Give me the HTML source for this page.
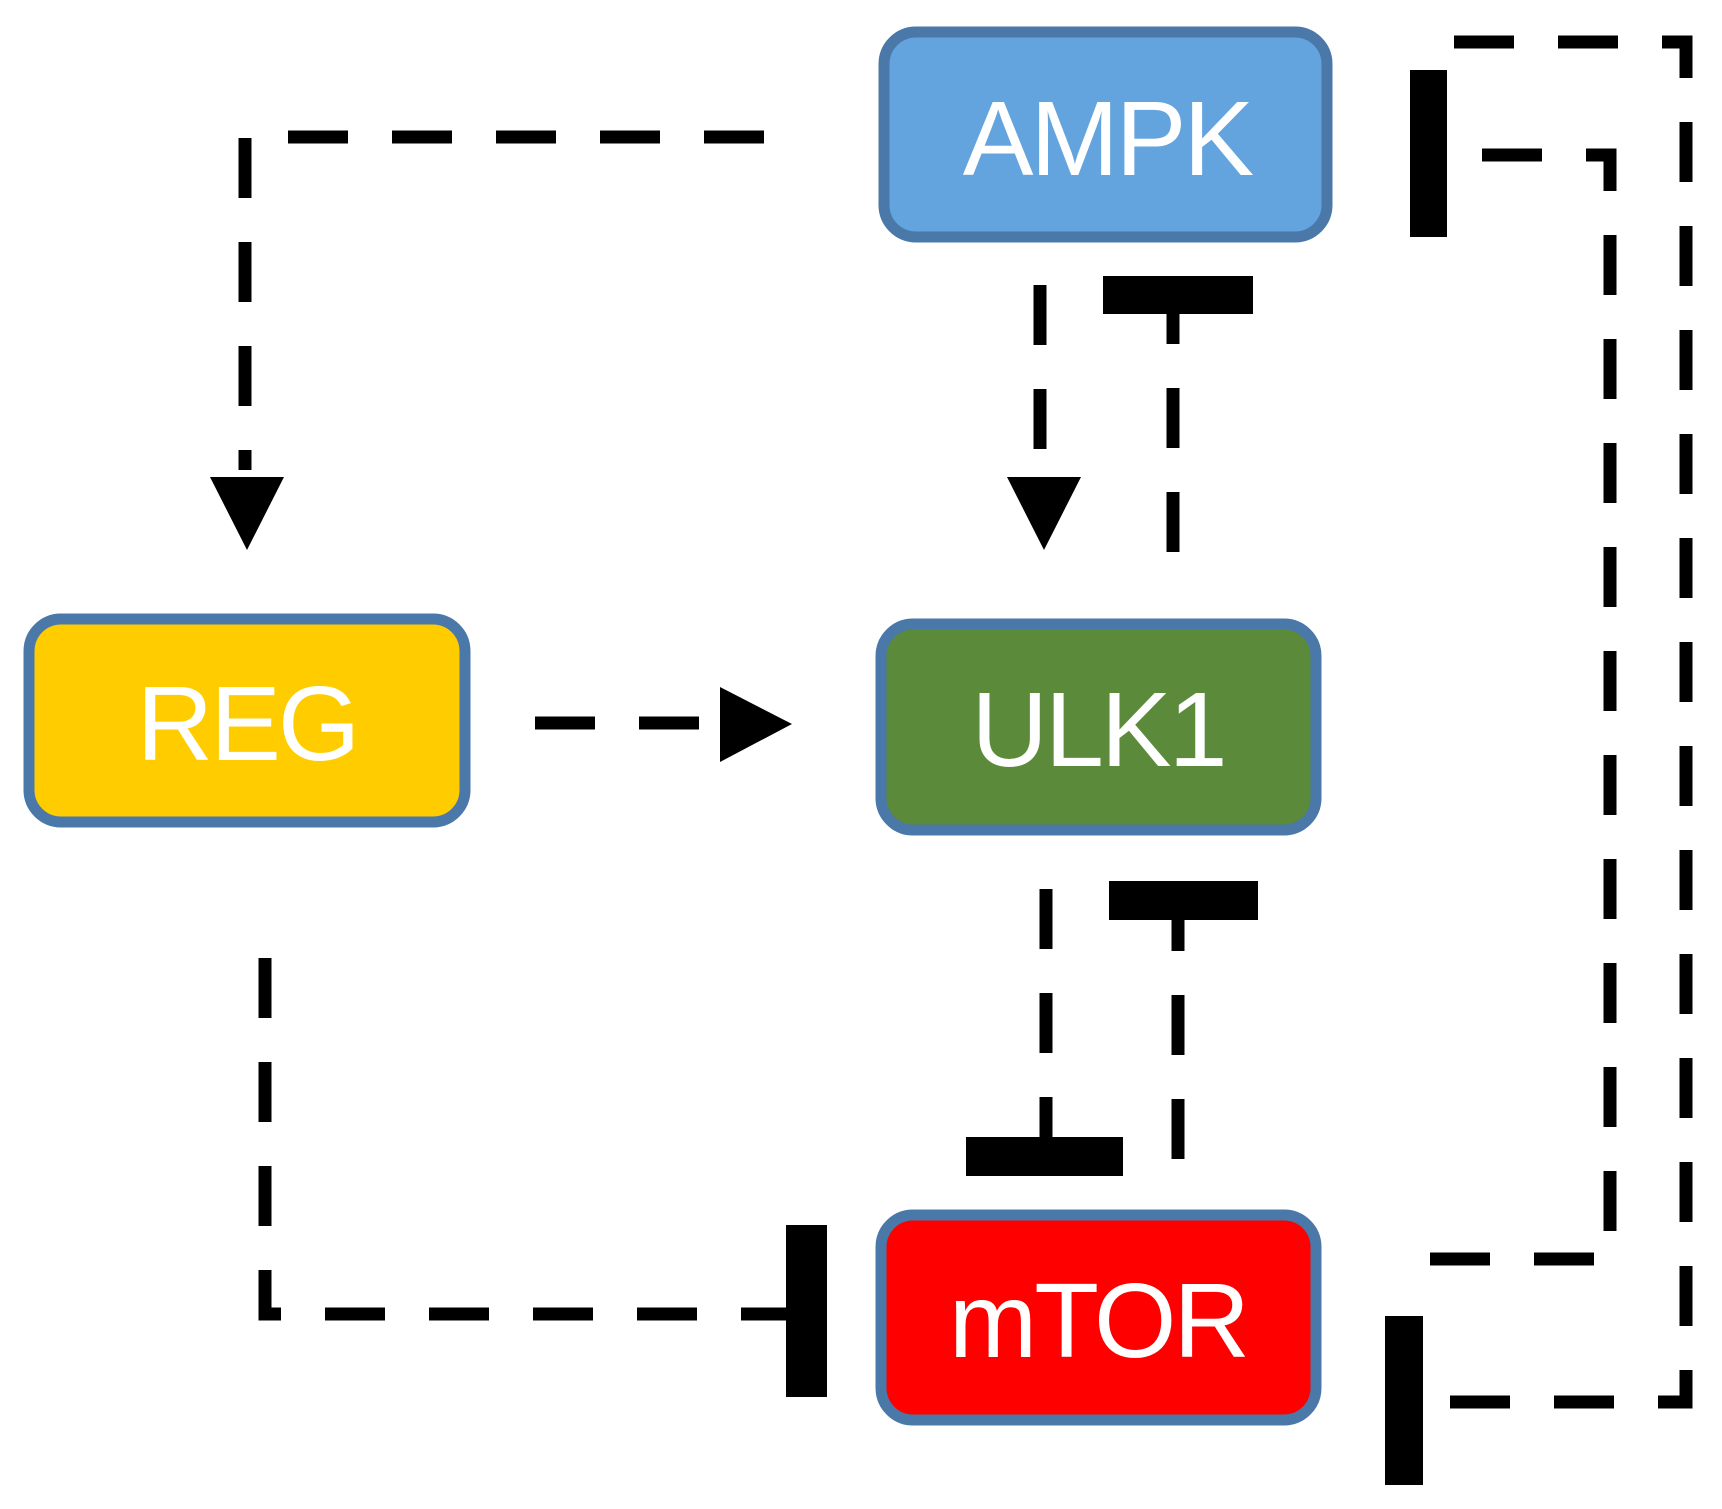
<!DOCTYPE html>
<html><head><style>
html,body{margin:0;padding:0;background:#fff;}
svg{display:block;}
text{font-family:"Liberation Sans",sans-serif;fill:#fff;font-size:106px;text-anchor:middle;letter-spacing:-3px;}
</style></head><body>
<svg width="1722" height="1509" viewBox="0 0 1722 1509" xmlns="http://www.w3.org/2000/svg">
<g transform="translate(-3,0)">
<g stroke="#4a78a8" stroke-width="11">
<rect x="887" y="32" width="443" height="205" rx="32" fill="#63a4de"/>
<rect x="32" y="619" width="436" height="203" rx="32" fill="#ffcc00"/>
<rect x="884" y="624" width="435" height="206" rx="32" fill="#5b8a3b"/>
<rect x="884" y="1215" width="435" height="205" rx="32" fill="#ff0000"/>
</g>
<text x="1110" y="175">AMPK</text>
<text x="250" y="760">REG</text>
<text x="1101" y="766">ULK1</text>
<text x="1101" y="1357">mTOR</text>
<g fill="none" stroke="#000" stroke-width="13" stroke-dasharray="60 44">
<path d="M767 137 H248 V470"/>
<path d="M1043 285 V475"/>
<path d="M1176 552 V314"/>
<path d="M538 723 H723"/>
<path d="M1049 889 V1137"/>
<path d="M1181 1159 V920"/>
<path d="M268 958 V1314 H789"/>
<path d="M1433 1259 H1613 V155 H1450"/>
<path d="M1457 42 H1689 V1402 H1426"/>
</g>
<g fill="#000">
<polygon points="213,477 287,477 250,550"/>
<polygon points="1010,477 1084,477 1047,550"/>
<polygon points="723,687 723,762 795,724"/>
<rect x="1106" y="276" width="150" height="38"/>
<rect x="1112" y="881" width="149" height="39"/>
<rect x="969" y="1137" width="157" height="39"/>
<rect x="789" y="1225" width="41" height="172"/>
<rect x="1413" y="70" width="37" height="167"/>
<rect x="1388" y="1316" width="38" height="169"/>
</g>
</g>
</svg>
</body></html>
